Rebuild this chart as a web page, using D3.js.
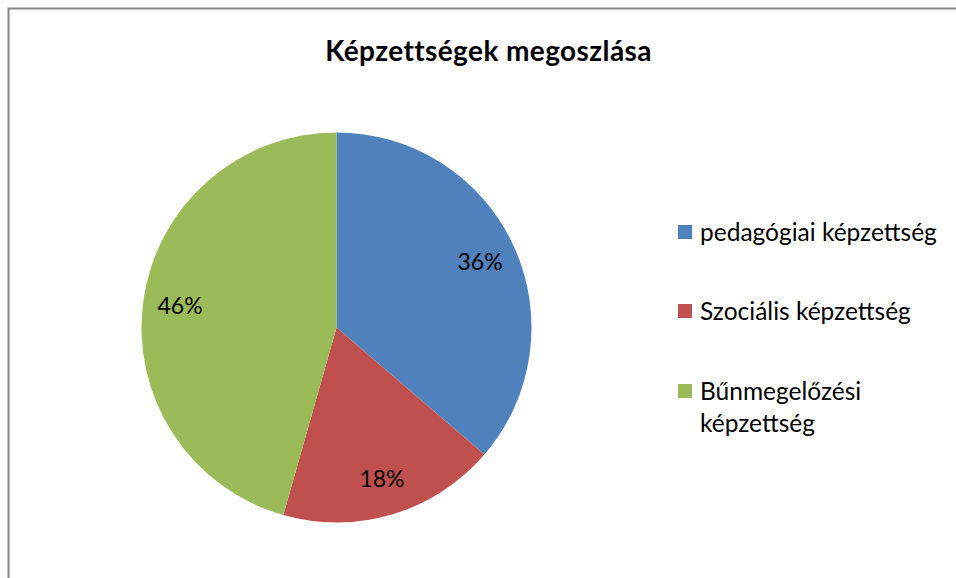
<!DOCTYPE html>
<html><head><meta charset="utf-8">
<script src="https://cdn.jsdelivr.net/npm/d3@7"></script>
<style>body{margin:0;background:#fff}svg{display:block}</style>
</head><body>
<svg id="c" width="956" height="578"></svg>
<script>
const categories = ["pedagógiai képzettség", "Szociális képzettség", "Bűnmegelőzési képzettség"];
const values = [36.3, 18.1, 45.6];
const labels = ["36%", "18%", "46%"];
const legendLines = [["pedagógiai képzettség"], ["Szociális képzettség"], ["Bűnmegelőzési", "képzettség"]];
const colors = ["#4F81BD", "#C0504D", "#9BBB59"];
const title = "Képzettségek megoszlása";

const svg = d3.select("#c");
const font = "Lato, 'Open Sans', sans-serif";

svg.append("rect").attr("x", 8.5).attr("y", 8.5).attr("width", 1000).attr("height", 1000)
  .attr("fill", "#fff").attr("stroke", "#868686").attr("stroke-width", 2);

svg.append("text").attr("x", 488.5).attr("y", 61).attr("text-anchor", "middle")
  .attr("font-family", font).attr("font-weight", "bold").attr("font-size", 28)
  .attr("letter-spacing", 0.4).attr("fill", "#000").text(title);

const cx = 336.5, cy = 327.5, r = 195;
const pie = d3.pie().sort(null).value(d => d)(values);
const arc = d3.arc().innerRadius(0).outerRadius(r);
const g = svg.append("g").attr("transform", `translate(${cx},${cy})`);
g.selectAll("path").data(pie).join("path").attr("d", arc).attr("fill", (d, i) => colors[i]);
const labelArc = d3.arc().innerRadius(r * 0.81).outerRadius(r * 0.81);
g.selectAll("text").data(pie).join("text")
  .attr("transform", d => `translate(${labelArc.centroid(d)})`)
  .attr("text-anchor", "middle").attr("dy", "0.36em")
  .attr("font-family", font).attr("font-size", 23).attr("fill", "#000")
  .text((d, i) => labels[i]);

const lg = svg.append("g");
const rowY = [232, 311, 391];
categories.forEach((c, i) => {
  lg.append("rect").attr("x", 678).attr("y", rowY[i] - 7).attr("width", 14).attr("height", 14).attr("fill", colors[i]);
  const t = lg.append("text").attr("x", 700).attr("y", rowY[i])
    .attr("font-family", font).attr("font-size", 24.5).attr("fill", "#000");
  legendLines[i].forEach((ln, j) => {
    t.append("tspan").attr("x", 700).attr("dy", j === 0 ? "0.36em" : "1.3em").text(ln);
  });
});
</script>
</body></html>
